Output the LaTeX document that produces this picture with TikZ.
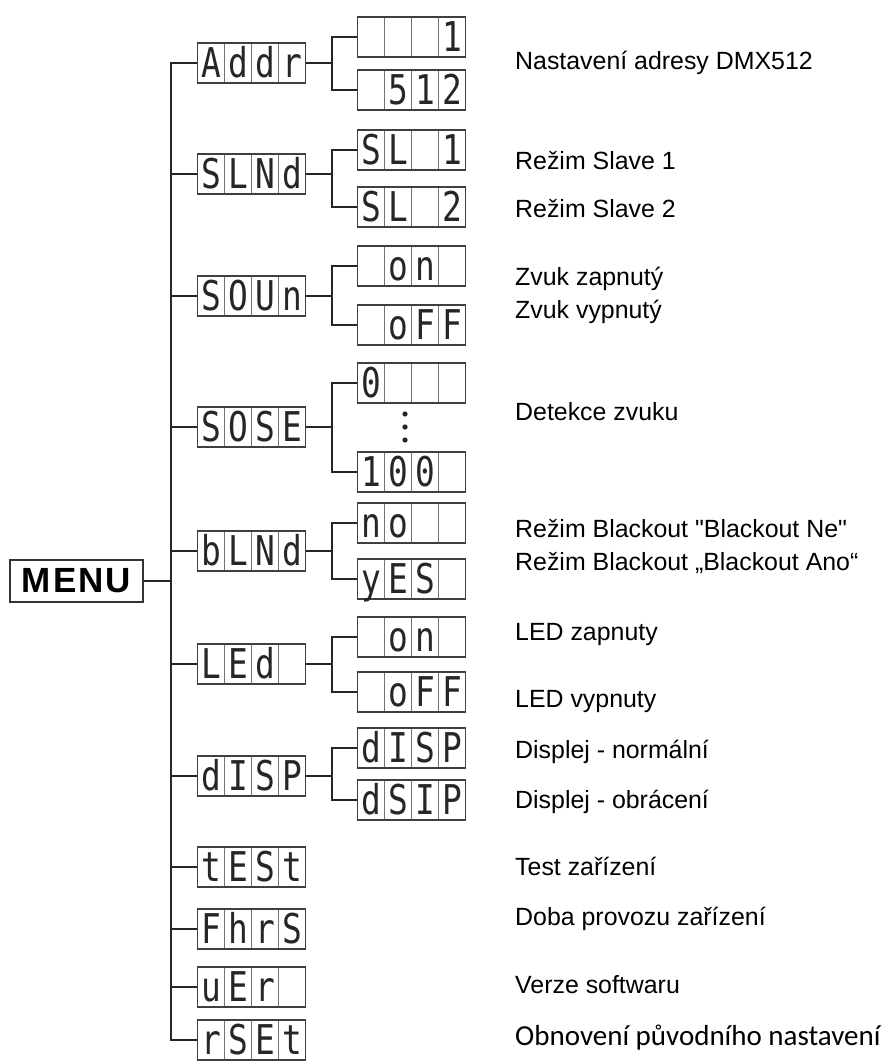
\documentclass[tikz,border=0pt]{standalone}
\usepackage{fontspec}
\usepackage{graphicx}
\setmainfont{Liberation Sans}[Ligatures=TeXOff]
\newfontfamily\lcdfam{DejaVu Sans Mono}
\newfontfamily\menufam[LetterSpace=6]{Liberation Sans}
\newfontfamily\notefam{Carlito}
\usetikzlibrary{positioning,calc}
\newcommand{\lcdcell}[1]{\makebox[27pt]{\scalebox{0.8}[1]{#1}}}
\newcommand{\lcd}[4]{\lcdcell{#1}\lcdcell{#2}\lcdcell{#3}\lcdcell{#4}}
\tikzset{
  lcdbox/.style={rectangle, draw=black!75, line width=1.2pt, inner sep=0pt, anchor=west,
    minimum width=108pt, minimum height=40pt, text height=34.5pt, text depth=5.5pt,
    text=black!85, font=\lcdfam\fontsize{41}{41}\selectfont,
    path picture={\foreach \k in {1,2,3}
      \draw[black!55, line width=1pt]
        ($(path picture bounding box.north west)!\k/4!(path picture bounding box.north east)$) --
        ($(path picture bounding box.south west)!\k/4!(path picture bounding box.south east)$);}},
  menubox/.style={rectangle, draw=black!80, line width=1.3pt, inner sep=0pt,
    minimum width=133pt, minimum height=42pt, font=\menufam\bfseries\fontsize{35}{35}\selectfont},
  note/.style={anchor=base west, inner sep=0pt, font=\fontsize{24.9}{30}\selectfont},
  conn/.style={draw=black!85, line width=1.6pt}
}
\begin{document}
\begin{tikzpicture}[x=1pt, y=-1pt]
\useasboundingbox (0,0) rectangle (888,1064);
% root
\node[menubox] (menu) at (76.5,581) {MENU};
% main menu
\node[lcdbox] (addr) at (197,63) {\lcd{A}{d}{d}{r}};
\node[lcdbox] (slnd) at (197,174) {\lcd{S}{L}{N}{d}};
\node[lcdbox] (soun) at (197,296) {\lcd{S}{O}{U}{n}};
\node[lcdbox] (sose) at (197,427) {\lcd{S}{O}{S}{E}};
\node[lcdbox] (blnd) at (197,551) {\lcd{b}{L}{N}{d}};
\node[lcdbox] (led) at (197,664) {\lcd{L}{E}{d}{}};
\node[lcdbox] (disp) at (197,776) {\lcd{d}{I}{S}{P}};
\node[lcdbox] (test) at (197,867) {\lcd{t}{E}{S}{t}};
\node[lcdbox] (fhrs) at (197,929) {\lcd{F}{h}{r}{S}};
\node[lcdbox] (uer) at (197,987) {\lcd{u}{E}{r}{}};
\node[lcdbox] (rset) at (197,1040) {\lcd{r}{S}{E}{t}};
% sub menu
\node[lcdbox] (addra) at (357,37) {\lcd{}{}{}{1}};
\node[lcdbox] (addrb) at (357,90) {\lcd{}{5}{1}{2}};
\node[lcdbox] (slnda) at (357,150) {\lcd{S}{L}{}{1}};
\node[lcdbox] (slndb) at (357,207) {\lcd{S}{L}{}{2}};
\node[lcdbox] (souna) at (357,266) {\lcd{}{o}{n}{}};
\node[lcdbox] (sounb) at (357,325) {\lcd{}{o}{F}{F}};
\node[lcdbox] (sosea) at (357,383) {\lcd{0}{}{}{}};
\node[lcdbox] (soseb) at (357,472) {\lcd{1}{0}{0}{}};
\node[lcdbox] (blnda) at (357,523) {\lcd{n}{o}{}{}};
\node[lcdbox] (blndb) at (357,579) {\lcd{y}{E}{S}{}};
\node[lcdbox] (leda) at (357,637) {\lcd{}{o}{n}{}};
\node[lcdbox] (ledb) at (357,692) {\lcd{}{o}{F}{F}};
\node[lcdbox] (dispa) at (357,748) {\lcd{d}{I}{S}{P}};
\node[lcdbox] (dispb) at (357,800) {\lcd{d}{S}{I}{P}};
\foreach \dy in {-13,0,13}
  \fill[black!85] ($(405,427)+(0,\dy)$) circle (2.6pt);
% trunk
\coordinate (trunk) at (171,0);
\draw[conn] (menu.east) -- (trunk |- menu.east);
\draw[conn] (addr.west) -- (trunk |- addr.west) -- (trunk |- rset.west) -- (rset.west);
\draw[conn] (trunk |- slnd.west) -- (slnd.west);
\draw[conn] (trunk |- soun.west) -- (soun.west);
\draw[conn] (trunk |- sose.west) -- (sose.west);
\draw[conn] (trunk |- blnd.west) -- (blnd.west);
\draw[conn] (trunk |- led.west) -- (led.west);
\draw[conn] (trunk |- disp.west) -- (disp.west);
\draw[conn] (trunk |- test.west) -- (test.west);
\draw[conn] (trunk |- fhrs.west) -- (fhrs.west);
\draw[conn] (trunk |- uer.west) -- (uer.west);
% branches
\draw[conn] (addr.east) -- ++(26pt,0) coordinate (jaddr);
\draw[conn] (addra.west) -| (jaddr) |- (addrb.west);
\draw[conn] (slnd.east) -- ++(26pt,0) coordinate (jslnd);
\draw[conn] (slnda.west) -| (jslnd) |- (slndb.west);
\draw[conn] (soun.east) -- ++(26pt,0) coordinate (jsoun);
\draw[conn] (souna.west) -| (jsoun) |- (sounb.west);
\draw[conn] (sose.east) -- ++(26pt,0) coordinate (jsose);
\draw[conn] (sosea.west) -| (jsose) |- (soseb.west);
\draw[conn] (blnd.east) -- ++(26pt,0) coordinate (jblnd);
\draw[conn] (blnda.west) -| (jblnd) |- (blndb.west);
\draw[conn] (led.east) -- ++(26pt,0) coordinate (jled);
\draw[conn] (leda.west) -| (jled) |- (ledb.west);
\draw[conn] (disp.east) -- ++(26pt,0) coordinate (jdisp);
\draw[conn] (dispa.west) -| (jdisp) |- (dispb.west);
% descriptions
\node[note] at (515,70) {Nastavení adresy DMX512};
\node[note] at (515,170) {Režim Slave 1};
\node[note] at (515,218) {Režim Slave 2};
\node[note] at (515,285) {Zvuk zapnutý};
\node[note] at (515,318) {Zvuk vypnutý};
\node[note] at (515,420) {Detekce zvuku};
\node[note] at (515,537) {Režim Blackout "Blackout Ne"};
\node[note] at (515,570) {Režim Blackout „Blackout Ano“};
\node[note] at (515,640) {LED zapnuty};
\node[note] at (515,707) {LED vypnuty};
\node[note] at (515,758) {Displej - normální};
\node[note] at (515,808) {Displej - obrácení};
\node[note] at (515,875) {Test zařízení};
\node[note] at (515,925) {Doba provozu zařízení};
\node[note] at (515,993) {Verze softwaru};
\node[note, font=\notefam\fontsize{29}{34}\selectfont] at (515,1045) {Obnovení původního nastavení};
\end{tikzpicture}
\end{document}
